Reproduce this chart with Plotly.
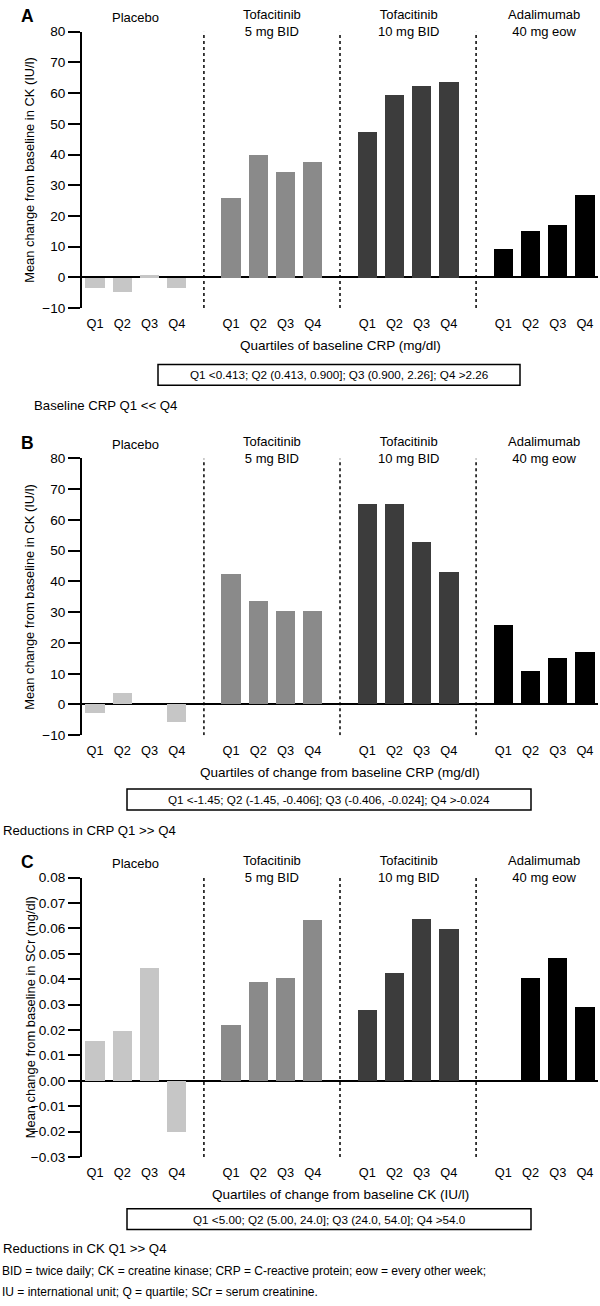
import plotly.graph_objects as go

W, H = 600, 1306

groups = ["Placebo", "Tofacitinib<br>5 mg BID", "Tofacitinib<br>10 mg BID", "Adalimumab<br>40 mg eow"]
quartiles = ["Q1", "Q2", "Q3", "Q4"]
group_colors = ["#c6c6c6", "#8a8a8a", "#3c3c3c", "#000000"]

# Panel A: mean change in CK (IU/l) by quartile of baseline CRP
a_placebo = [-3.5, -4.7, 0.8, -3.5]
a_tofa5 = [25.9, 39.8, 34.5, 37.7]
a_tofa10 = [47.4, 59.4, 62.3, 63.6]
a_ada = [9.2, 15.3, 17.0, 27.0]

# Panel B: mean change in CK (IU/l) by quartile of change in CRP
b_placebo = [-2.9, 3.7, None, -6.0]
b_tofa5 = [42.3, 33.4, 30.4, 30.3]
b_tofa10 = [65.2, 64.9, 52.6, 42.9]
b_ada = [25.7, 10.6, 14.9, 17.0]

# Panel C: mean change in SCr (mg/dl) by quartile of change in CK
c_placebo = [0.0158, 0.0197, 0.0444, -0.0202]
c_tofa5 = [0.0220, 0.0389, 0.0406, 0.0634]
c_tofa10 = [0.0279, 0.0425, 0.0637, 0.0598]
c_ada = [None, 0.0405, 0.0486, 0.0292]

panel_letters = ["A", "B", "C"]
y_titles = ["Mean change from baseline in CK (IU/l)",
            "Mean change from baseline in CK (IU/l)",
            "Mean change from baseline in SCr (mg/dl)"]
x_titles = ["Quartiles of baseline CRP (mg/dl)",
            "Quartiles of change from baseline CRP (mg/dl)",
            "Quartiles of change from baseline CK (IU/l)"]
box_texts = ["Q1 <0.413; Q2 (0.413, 0.900]; Q3 (0.900, 2.26]; Q4 >2.26",
             "Q1 <-1.45; Q2 (-1.45, -0.406]; Q3 (-0.406, -0.024]; Q4 >-0.024",
             "Q1 <5.00; Q2 (5.00, 24.0]; Q3 (24.0, 54.0]; Q4 >54.0"]
notes = ["Baseline CRP Q1 << Q4", "Reductions in CRP Q1 >> Q4", "Reductions in CK Q1 >> Q4"]
footnotes = ["BID = twice daily; CK = creatine kinase; CRP = C-reactive protein; eow = every other week;",
             "IU = international unit; Q = quartile; SCr = serum creatinine."]

y_ranges = [[-10, 80], [-10, 80], [-0.03, 0.08]]
y_dticks = [10, 10, 0.01]
y_formats = ["d", "d", ".2f"]

panels = [
    [a_placebo, a_tofa5, a_tofa10, a_ada],
    [b_placebo, b_tofa5, b_tofa10, b_ada],
    [c_placebo, c_tofa5, c_tofa10, c_ada],
]

# pixel layout (top/bottom of each plot area) and text offsets
tops = [25, 456.7, 880.7]
bottoms = [304.5, 736.7, 1163.3]
box_px = [(158, 520, 361.7, 382.7), (127, 531, 791, 812.3), (127, 531, 1215.7, 1236.7)]
note_px = [(32, 403.3), (1, 832.7), (1, 1256)]
xl, xr = 82, 598

FONT = "Liberation Sans, Arial, Helvetica, sans-serif"

def py(px):
    return 1 - px / H

def px_x(px):
    return px / W

fig = go.Figure()
annotations = []
shapes = []
layout = {}

for p in range(3):
    sfx = "" if p == 0 else str(p + 1)
    xa, ya = "x" + sfx, "y" + sfx
    for g in range(4):
        xs = [g * 5 + q for q in range(4)]
        fig.add_trace(go.Bar(
            x=xs, y=panels[p][g], xaxis=xa, yaxis=ya,
            marker=dict(color=group_colors[g], line=dict(width=0)),
            width=0.71, showlegend=False, hoverinfo="y"))
    tickvals = [g * 5 + q for g in range(4) for q in range(4)]
    ticktext = quartiles * 4
    layout["xaxis" + sfx] = dict(
        domain=[px_x(xl), px_x(xr)], anchor=ya, range=[-0.48, 18.48],
        showline=False, showgrid=False, zeroline=False, ticks="",
        tickvals=tickvals, ticktext=ticktext, ticklabelstandoff=6,
        tickfont=dict(size=12.8, color="#000", family=FONT), fixedrange=True)
    layout["yaxis" + sfx] = dict(
        domain=[py(bottoms[p]), py(tops[p])], anchor=xa, range=y_ranges[p],
        dtick=y_dticks[p], tick0=y_ranges[p][0], tickformat=y_formats[p],
        showline=True, linecolor="#000", linewidth=2, showgrid=False,
        zeroline=True, zerolinecolor="#000", zerolinewidth=2,
        ticks="outside", ticklen=12, tickwidth=2, tickcolor="#000",
        tickfont=dict(size=13.6, color="#000", family=FONT), fixedrange=True)
    # dashed separators between groups
    for g in range(1, 4):
        xs = g * 5 - 1
        shapes.append(dict(type="line", xref=xa, yref=ya, x0=xs, x1=xs,
                           y0=y_ranges[p][0], y1=y_ranges[p][1],
                           line=dict(color="#000", width=1.5, dash="3px,3px")))
    # group titles (one text per group)
    for g in range(4):
        n_lines = groups[g].count("<br>") + 1
        cy = tops[p] - 14 if n_lines == 1 else tops[p] - 9
        annotations.append(dict(text=groups[g], xref=xa, yref="paper", x=g * 5 + 1.5,
                                y=py(cy), xanchor="center",
                                yanchor="middle", showarrow=False, align="center",
                                font=dict(size=13, color="#000", family=FONT)))
    # panel letter
    annotations.append(dict(text="<b>%s</b>" % panel_letters[p], xref="paper", yref="paper",
                            x=px_x(27), y=py(tops[p] - 15.5), xanchor="center", yanchor="middle",
                            showarrow=False, font=dict(size=17.5, color="#000", family=FONT)))
    # y title
    annotations.append(dict(text=y_titles[p], xref="paper", yref="paper", textangle=-90,
                            x=px_x(30), y=py((tops[p] + bottoms[p]) / 2), xanchor="center",
                            yanchor="middle", showarrow=False,
                            font=dict(size=12.9, color="#000", family=FONT)))
    # x title
    annotations.append(dict(text=x_titles[p], xref="paper", yref="paper",
                            x=px_x((xl + xr) / 2), y=py(bottoms[p] + 38), xanchor="center",
                            yanchor="middle", showarrow=False,
                            font=dict(size=13.5, color="#000", family=FONT)))
    # box
    bx0, bx1, by0, by1 = box_px[p]
    shapes.append(dict(type="rect", xref="paper", yref="paper", x0=px_x(bx0), x1=px_x(bx1),
                       y0=py(by1), y1=py(by0), line=dict(color="#000", width=1.5)))
    annotations.append(dict(text=box_texts[p], xref="paper", yref="paper",
                            x=px_x((bx0 + bx1) / 2), y=py((by0 + by1) / 2), xanchor="center",
                            yanchor="middle", showarrow=False,
                            font=dict(size=11.7, color="#000", family=FONT)))
    # note
    annotations.append(dict(text=notes[p], xref="paper", yref="paper",
                            x=px_x(note_px[p][0]), y=py(note_px[p][1]), xanchor="left",
                            yanchor="middle", showarrow=False,
                            font=dict(size=13.2, color="#000", family=FONT)))

for i, t in enumerate(footnotes):
    annotations.append(dict(text=t, xref="paper", yref="paper", x=px_x(0), y=py(1278.3 + 21.7 * i),
                            xanchor="left", yanchor="middle", showarrow=False,
                            font=dict(size=12, color="#000", family=FONT)))

fig.update_layout(width=W, height=H, margin=dict(l=0, r=0, t=0, b=0),
                  paper_bgcolor="white", plot_bgcolor="white", bargap=0,
                  annotations=annotations, shapes=shapes,
                  font=dict(family=FONT, color="#000"), **layout)

fig.write_html("out.html", config={"displayModeBar": False},
               post_script="document.body.style.margin='0';document.body.style.overflow='hidden';")
